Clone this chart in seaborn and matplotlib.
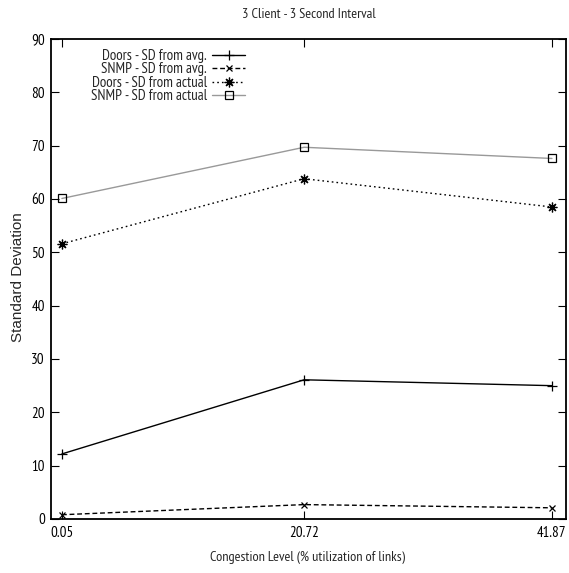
import pandas as pd
import seaborn as sns
import matplotlib.pyplot as plt
from matplotlib import font_manager as fm

# congestion levels (% utilization of links)
congestion = [0.05, 20.72, 41.87]
tick_labels = ["0.05", "20.72", "41.87"]

# standard deviation series
doors_avg = [12.2, 26.1, 25.0]
snmp_avg = [0.8, 2.7, 2.1]
doors_actual = [51.6, 63.8, 58.5]
snmp_actual = [60.1, 69.7, 67.6]

series_names = ["Doors - SD from avg.", "SNMP - SD from avg.",
                "Doors - SD from actual", "SNMP - SD from actual"]
series_values = [doors_avg, snmp_avg, doors_actual, snmp_actual]

sns.set_theme(style="ticks")

# the original uses a narrow helvetica, pick a narrow face if there is one
available = set(f.name for f in fm.fontManager.ttflist)
family = "Liberation Sans"
for cand in ["Liberation Sans Narrow", "Arial Narrow", "PT Sans Narrow",
             "Archivo Narrow", "Roboto Condensed"]:
    if cand in available:
        family = cand
        break
plt.rcParams['font.family'] = [family, 'DejaVu Sans']

rows = []
for name, vals in zip(series_names, series_values):
    for x, y in zip(congestion, vals):
        rows.append({"congestion": x, "sd": y, "series": name})
df = pd.DataFrame(rows)

# gnuplot-like line styles
styles = {
    "Doors - SD from avg.": dict(color="black", ls="-", marker="+", ms=7, mfc="black"),
    "SNMP - SD from avg.": dict(color="black", ls=(0, (3.5, 2)), marker="x", ms=5, mfc="black"),
    "Doors - SD from actual": dict(color="black", ls=(0, (1.2, 2.2)), marker=(8, 2, 0), ms=7, mfc="black"),
    "SNMP - SD from actual": dict(color="#999999", ls="-", marker="s", ms=5.5, mfc="none", mec="black"),
}

W, H = 569, 573
fig = plt.figure(figsize=(W / 100, H / 100), dpi=100)
L, R, T, B = 51, 566, 39, 519
ax = fig.add_axes([L / W, 1 - B / H, (R - L) / W, (B - T) / H])

for name in series_names:
    st = styles[name]
    sns.lineplot(data=df[df.series == name], x="congestion", y="sd", ax=ax,
                 label=name, color=st["color"], linestyle=st["ls"], lw=1.0,
                 marker=st["marker"], markersize=st["ms"], markerfacecolor=st["mfc"],
                 markeredgecolor=st.get("mec", "black"), markeredgewidth=0.9)

ax.set_xlim(-0.88, 43.07)
ax.set_ylim(0, 90)
ax.set_xticks(congestion)
ax.set_xticklabels(tick_labels)
ax.set_yticks(range(0, 91, 10))
ax.tick_params(direction="in", top=True, right=True, length=6, width=0.8,
               labelsize=10, colors="black")
ax.tick_params(axis="x", pad=5)
ax.tick_params(axis="y", pad=4.3)
for sp in ax.spines.values():
    sp.set_linewidth(1.3)
    sp.set_color("black")

ax.set_xlabel("Congestion Level (% utilization of links)", fontsize=10)
# rotated label keeps normal proportions in the original
ax.set_ylabel("Standard Deviation", fontsize=10, family=["Liberation Sans", "DejaVu Sans"])
ax.set_title("3 Client - 3 Second Interval", fontsize=10, y=(B - 14) / (B - T), pad=0, va="center")
ax.xaxis.set_label_coords((307 - L) / (R - L), (B - 557) / (B - T))
ax.xaxis.label.set_va("center")
ax.yaxis.set_label_coords((18 - L) / (R - L), (B - 277) / (B - T))
ax.yaxis.label.set_va("center")

fig.canvas.draw()
rend = fig.canvas.get_renderer()


def fit(text, target, vertical=False):
    bb = text.get_window_extent(rend)
    size = bb.height if vertical else bb.width
    text.set_fontsize(text.get_fontsize() * target / size)


# match the text widths of the original
fit(ax.title, 134)
fit(ax.xaxis.label, 195)
fit(ax.yaxis.label, 130, vertical=True)
lab90 = [t for t in ax.get_yticklabels() if t.get_text() == "90"][0]
tick_fs = lab90.get_fontsize() * 13.5 / lab90.get_window_extent(rend).width
ax.tick_params(labelsize=tick_fs)


def make_legend(fs, spacing):
    return ax.legend(loc="upper right", bbox_to_anchor=(245 / W, 1 - 49 / H),
                     bbox_transform=fig.transFigure, frameon=False,
                     markerfirst=False, fontsize=fs, handlelength=33 / (fs * 100 / 72),
                     handletextpad=5 / (fs * 100 / 72), labelspacing=spacing,
                     borderaxespad=0, borderpad=0)


leg = make_legend(9, 0.2)
fig.canvas.draw()
txts = leg.get_texts()
w = txts[3].get_window_extent(rend).width
fs = 9 * 116 / w
leg = make_legend(fs, 0.2)
fig.canvas.draw()
txts = leg.get_texts()
ys = [t.get_window_extent(rend).y0 for t in txts]
d = (ys[0] - ys[3]) / 3
leg = make_legend(fs, 0.2 + (13.5 - d) / (fs * 100 / 72))

fig.savefig("out.png", dpi=100)
